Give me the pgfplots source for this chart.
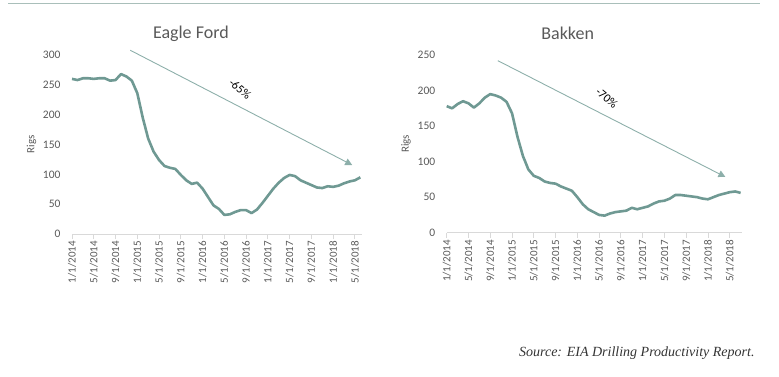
\documentclass[border=0pt]{standalone}
\usepackage{pgfplots}
\pgfplotsset{compat=1.18}
\usepackage{fontspec}
\setmainfont{Carlito}
\newfontfamily\srcfont{Liberation Serif}
\usetikzlibrary{arrows.meta}
\definecolor{lineC}{HTML}{6F9993}
\definecolor{arrC}{HTML}{8DAFAA}
\definecolor{tickC}{HTML}{595959}
\definecolor{axC}{HTML}{D9D9D9}
\definecolor{topC}{HTML}{A9BFBA}

\pgfplotstableread{
m v
0 260
1 258
2 261
3 261
4 260
5 261
6 261
7 257
8 258
9 268
10 264
11 257
12 236
13 195
14 160
15 138
16 124
17 114
18 111
19 109
20 99
21 90
22 84
23 86
24 76
25 62
26 48
27 42
28 32
29 33
30 37
31 40
32 40
33 35
34 41
35 52
36 64
37 76
38 86
39 94
40 99
41 97
42 90
43 86
44 82
45 78
46 77
47 80
48 79
49 81
50 85
51 88
52 90
53 95
}\eagle

\pgfplotstableread{
m v
0 178
1 175
2 181
3 185
4 182
5 176
6 182
7 190
8 195
9 193
10 190
11 184
12 168
13 135
14 108
15 89
16 80
17 77
18 72
19 70
20 69
21 65
22 62
23 59
24 50
25 40
26 33
27 29
28 25
29 24
30 27
31 29
32 30
33 31
34 35
35 33
36 35
37 37
38 41
39 44
40 45
41 48
42 53
43 53
44 52
45 51
46 50
47 48
48 47
49 50
50 53
51 55
52 57
53 58
54 56
}\bakken

\pgfplotsset{
  rigstyle/.style={
    scale only axis,
    anchor=south west,
    axis lines=left,
    axis line style={-},
    y axis line style={draw=none},
    x axis line style={draw=axC, line width=0.9bp},
    xmin=0,
    xtick={0,4,...,52},
    xticklabels={1/1/2014,5/1/2014,9/1/2014,1/1/2015,5/1/2015,9/1/2015,1/1/2016,5/1/2016,9/1/2016,1/1/2017,5/1/2017,9/1/2017,1/1/2018,5/1/2018},
    xticklabel style={rotate=90, anchor=east, font=\fontsize{11bp}{12bp}\selectfont, text=tickC, inner sep=2bp},
    yticklabel style={font=\fontsize{11.5bp}{12bp}\selectfont, text=tickC, xshift=-3bp},
    xtick style={draw=axC, line width=0.9bp},
    ytick style={draw=none},
    tick align=outside,
    major tick length=5bp,
    ymin=0,
    ylabel={Rigs},
    ylabel style={font=\fontsize{11bp}{12bp}\selectfont, text=tickC},
    title style={font=\fontsize{18bp}{20bp}\selectfont, text=tickC},
    /pgf/number format/assume math mode=true,
    clip=false,
  }
}

\begin{document}
\begin{tikzpicture}[x=1bp,y=1bp]
\path[use as bounding box] (0,0) rectangle (779,376);
\draw[topC, line width=1.5bp] (8,372.5) -- (760,372.5);

\begin{axis}[rigstyle,
  at={(72bp,142bp)}, width=290bp, height=179bp,
  xmax=53.3, ymax=300, ytick={0,50,...,300},
  title={Eagle Ford}, title style={at={(0.41,1)}, yshift=4bp}]
\addplot[lineC, line width=2.6bp, line join=round] table[x=m, y=v] {\eagle};
\draw[arrC, line width=0.9bp, -{Triangle[length=7bp,width=7bp]}] (axis cs:10.7,308) -- (axis cs:51.5,115.6);
\node[rotate=-40, font=\fontsize{12bp}{13bp}\selectfont] at (axis cs:30.9,243) {-65\%};
\end{axis}

\begin{axis}[rigstyle,
  at={(446.7bp,143.3bp)}, width=295bp, height=177.7bp,
  xmax=54.2, ymax=250, ytick={0,50,...,250},
  title={Bakken}, title style={at={(0.41,1)}, yshift=6bp}]
\addplot[lineC, line width=2.6bp, line join=round] table[x=m, y=v] {\bakken};
\draw[arrC, line width=0.9bp, -{Triangle[length=7bp,width=7bp]}] (axis cs:9.4,242) -- (axis cs:51.2,78.4);
\node[rotate=-40, font=\fontsize{12bp}{13bp}\selectfont] at (axis cs:29.4,189) {-70\%};
\end{axis}

\node[anchor=east, font=\srcfont\itshape\fontsize{14bp}{15bp}\selectfont, text=black!80] at (758,23) {Source: EIA Drilling Productivity Report.};
\end{tikzpicture}
\end{document}
